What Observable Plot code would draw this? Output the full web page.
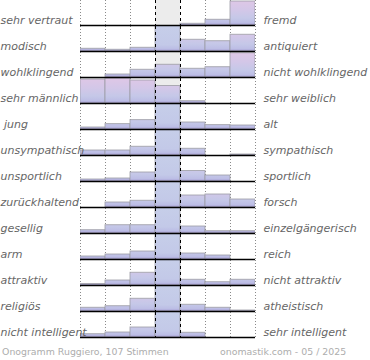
<!DOCTYPE html>
<html><head><meta charset="utf-8">
<script src="https://cdn.jsdelivr.net/npm/d3@7"></script>
<script src="https://cdn.jsdelivr.net/npm/@observablehq/plot@0.6"></script>
<style>
body{margin:0;background:#fff;font-family:"DejaVu Sans",sans-serif;}
#chart svg text{white-space:pre;}
#foot{position:relative;height:20px;font-size:9.4px;color:#adadad;font-family:"DejaVu Sans",sans-serif;}
#foot span{position:absolute;top:6px;line-height:12px;white-space:nowrap;}
</style></head><body>
<div id="chart"></div>
<div id="foot"><span id="f1" style="left:2px"></span><span id="f2" style="left:220px"></span></div>
<script>
const leftLabels = ["sehr vertraut","modisch","wohlklingend","sehr männlich"," jung","unsympathisch","unsportlich","zurückhaltend","gesellig","arm","attraktiv","religiös","nicht intelligent"];
const rightLabels = ["fremd","antiquiert","nicht wohlklingend","sehr weiblich","alt","sympathisch","sportlich","forsch","einzelgängerisch","reich","nicht attraktiv","atheistisch","sehr intelligent"];
// bar heights per row, 7 bins (center bins above 25 are cut off in the picture)
const shares = [
  [0, 0, 0, 0, 1.7, 5.7, 24],
  [2.7, 1.7, 3.7, 40, 11.7, 10.3, 16.7],
  [0, 3, 7.7, 12.7, 8.7, 10.3, 24.3],
  [24, 25, 23, 17.5, 2.3, 0, 0],
  [2, 5.4, 9.4, 40, 7, 4.4, 4],
  [5, 5, 8.7, 40, 6.7, 0, 1],
  [2, 3, 9, 40, 10.5, 6, 0],
  [0, 5, 6.7, 40, 12, 13, 8],
  [3.3, 8.3, 8.3, 40, 7, 2.3, 2.3],
  [3, 5, 8, 40, 6, 4, 0],
  [1.5, 5, 12.7, 40, 5.7, 3.3, 5.7],
  [3.7, 5.3, 12.7, 40, 6.7, 3.7, 1],
  [3.3, 5, 10, 40, 4.7, 0, 0]
];
const binEdges = [0, 1, 2, 3, 4, 5, 6, 7];
const centerBin = 3;
const YMAX = 25;
const footLeft = "Onogramm Ruggiero, 107 Stimmen";
const footRight = "onomastik.com - 05 / 2025";

const rows = leftLabels.map((d, i) => i);
const data = shares.flatMap((r, i) => r.map((v, j) => ({row: i, bin: j, v})));

const plot = Plot.plot({
  width: 370, height: 340,
  marginLeft: 80, marginRight: 115, marginTop: 0, marginBottom: 2,
  x: {domain: [0, 7], axis: null},
  y: {domain: [0, YMAX], axis: null, insetBottom: 1},
  fy: {domain: rows, padding: 0, axis: null},
  style: {fontFamily: "DejaVu Sans", background: "#fff"},
  marks: [
    Plot.rect([centerBin], {x1: d => d, x2: d => d + 1, fill: "#ececec"}),
    Plot.ruleX(binEdges.filter(e => e !== centerBin && e !== centerBin + 1), {stroke: "#8a8a8a", strokeDasharray: "1,2", strokeWidth: 1}),
    Plot.rect(data, {fy: "row", x1: "bin", x2: d => d.bin + 1, y1: 0, y2: "v",
      fill: d => d.v > YMAX ? "url(#gradC)" : "url(#gradB)",
      stroke: "#9c9ca4", strokeWidth: 1, strokeOpacity: 0.8, clip: true}),
    Plot.ruleX([centerBin, centerBin + 1], {stroke: "#000", strokeDasharray: "3,3", strokeWidth: 1}),
    Plot.ruleY([0], {x1: 0, x2: 7, stroke: "#000", strokeWidth: 1.6}),
    Plot.text(leftLabels, {fy: (d, i) => i, y: 5, text: d => d, frameAnchor: "left", textAnchor: "start", dx: -80,
      fill: "#666", fontSize: 11, fontStyle: "italic", lineAnchor: "middle"}),
    Plot.text(rightLabels, {fy: (d, i) => i, y: 5, text: d => d, frameAnchor: "right", textAnchor: "start", dx: 8,
      fill: "#666", fontSize: 11, fontStyle: "italic", lineAnchor: "middle"})
  ]
});

const ys = plot.scale("y");
const yTop = ys.apply(YMAX), yBot = ys.apply(0);
const ns = "http://www.w3.org/2000/svg";
const defs = document.createElementNS(ns, "defs");
function grad(id, stops) {
  const g = document.createElementNS(ns, "linearGradient");
  g.setAttribute("id", id);
  g.setAttribute("gradientUnits", "userSpaceOnUse");
  g.setAttribute("x1", 0); g.setAttribute("x2", 0);
  g.setAttribute("y1", yTop); g.setAttribute("y2", yBot);
  for (const [o, c] of stops) {
    const s = document.createElementNS(ns, "stop");
    s.setAttribute("offset", o); s.setAttribute("stop-color", c);
    g.appendChild(s);
  }
  defs.appendChild(g);
}
grad("gradB", [[0, "#dfc7e6"], [0.4, "#d3c7e8"], [0.72, "#c5c8e8"], [0.9, "#bdbee5"], [1, "#a69fd3"]]);
grad("gradC", [[0, "#c6cee9"], [0.75, "#c3c9e8"], [0.9, "#bcbee5"], [1, "#a8a1d5"]]);
plot.insertBefore(defs, plot.firstChild);
document.getElementById("chart").appendChild(plot);
document.getElementById("f1").textContent = footLeft;
document.getElementById("f2").textContent = footRight;
</script>
</body></html>
